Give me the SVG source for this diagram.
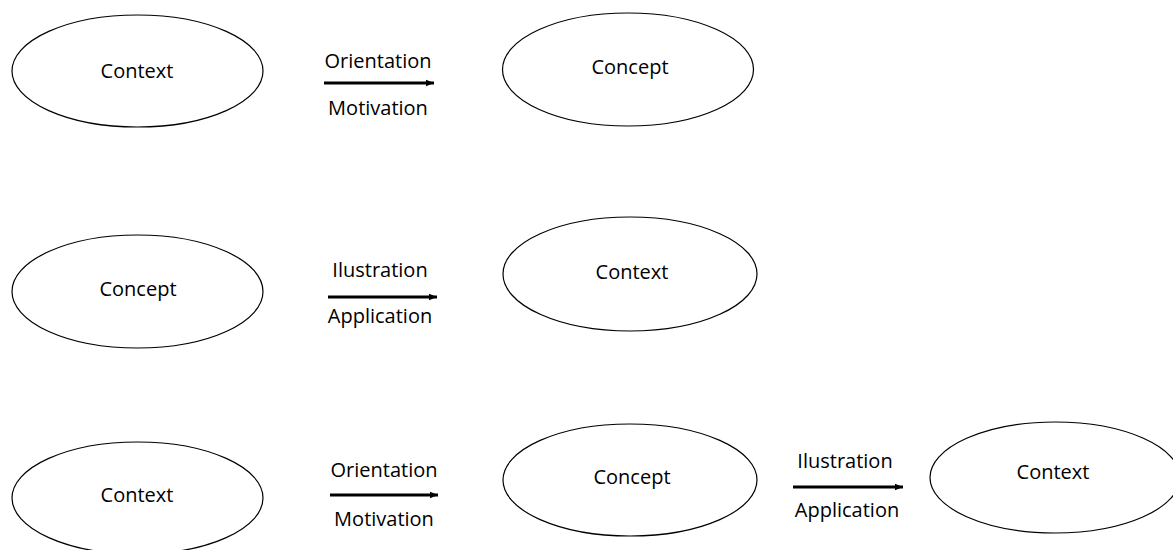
<svg xmlns="http://www.w3.org/2000/svg" width="1173" height="550" viewBox="0 0 1173 550">
  <style>
    .node ellipse { fill: #ffffff; stroke: #000000; stroke-width: 1.2; }
    text { font-family: "Open Sans", "Noto Sans", sans-serif; font-size: 20px; fill: #000000; text-anchor: middle; }
    .conn line { stroke: #000000; stroke-width: 3; }
  </style>
  <defs>
    <marker id="arrow" markerUnits="userSpaceOnUse" markerWidth="10" markerHeight="8" refX="8" refY="4" orient="auto">
      <path d="M0,0.8 L8,4 L0,7.2 Z" fill="#000000"/>
    </marker>
  </defs>
  <rect width="1173" height="550" fill="#ffffff"/>

  <!-- Row 1 -->
  <g id="r1-context" class="node">
    <ellipse cx="137.5" cy="71" rx="125.5" ry="56"/>
    <text x="137" y="78">Context</text>
  </g>
  <g id="r1-concept" class="node">
    <ellipse cx="628" cy="69.5" rx="125.5" ry="56.5"/>
    <text x="630" y="74">Concept</text>
  </g>

  <!-- Row 2 -->
  <g id="r2-concept" class="node">
    <ellipse cx="137.5" cy="291.5" rx="125.5" ry="56.5"/>
    <text x="138" y="296">Concept</text>
  </g>
  <g id="r2-context" class="node">
    <ellipse cx="630" cy="274" rx="127" ry="57"/>
    <text x="632" y="279">Context</text>
  </g>

  <!-- Row 3 -->
  <g id="r3-context" class="node">
    <ellipse cx="137.5" cy="498" rx="125.5" ry="56"/>
    <text x="137" y="502">Context</text>
  </g>
  <g id="r3-concept" class="node">
    <ellipse cx="630" cy="480" rx="127" ry="56"/>
    <text x="632" y="484">Concept</text>
  </g>
  <g id="r3-context-2" class="node">
    <ellipse cx="1055" cy="477.5" rx="125" ry="55.5"/>
    <text x="1053" y="479">Context</text>
  </g>

  <!-- Connectors with their labels -->
  <g id="connectors" class="conn">
    <line x1="324" y1="83" x2="434" y2="83" marker-end="url(#arrow)"/>
    <text x="378" y="68">Orientation</text>
    <text x="378" y="115">Motivation</text>

    <line x1="328" y1="297" x2="437" y2="297" marker-end="url(#arrow)"/>
    <text x="380" y="277">Ilustration</text>
    <text x="380" y="323">Application</text>

    <line x1="330" y1="495" x2="438" y2="495" marker-end="url(#arrow)"/>
    <text x="384" y="477">Orientation</text>
    <text x="384" y="526">Motivation</text>

    <line x1="793" y1="487" x2="903" y2="487" marker-end="url(#arrow)"/>
    <text x="845" y="468">Ilustration</text>
    <text x="847" y="517">Application</text>
  </g>
</svg>
